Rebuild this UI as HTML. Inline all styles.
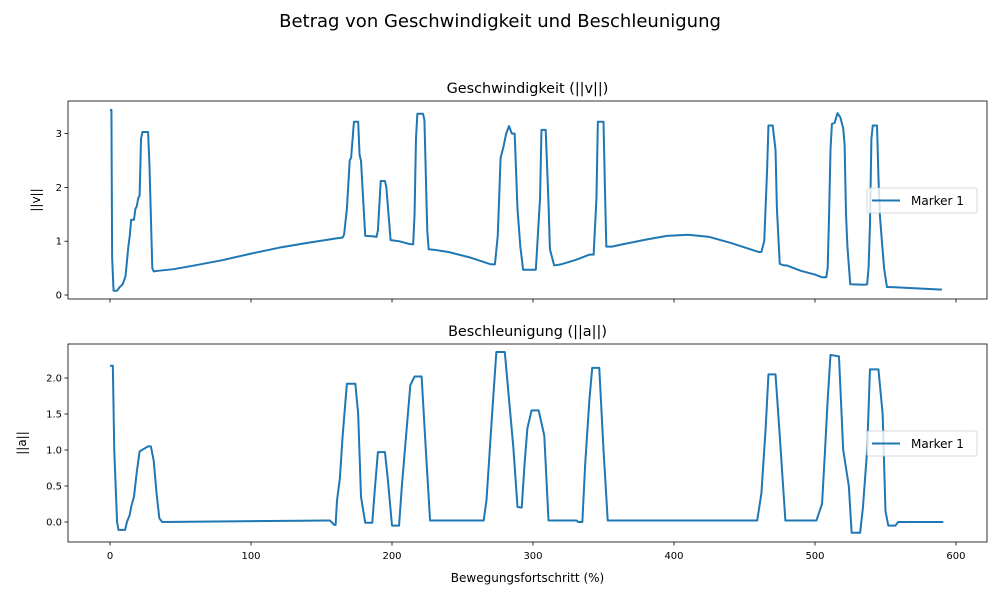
<!DOCTYPE html>
<html><head><meta charset="utf-8"><style>
body{margin:0;background:#fff;font-family:"Liberation Sans","DejaVu Sans",sans-serif}
svg text{font-family:"DejaVu Sans","Liberation Sans",sans-serif}
</style></head><body>
<svg id="c" width="1000" height="600" viewBox="0 0 1000 600">
<text x="500" y="27" text-anchor="middle" font-size="18" fill="#000">Betrag von Geschwindigkeit und Beschleunigung</text>
</svg>
<script>
const vX=[0,1,1.5,2.5,5,7,9,11,13,14,15,17,18,19,20,21,22,23,27,28,30,31,34,45,60,80,100,120,140,160,165,166,168,170,171,173,176,177,178,181,187,189,190,192,195,196,199,205,212,215,216,217,218,222,223,225,226,230,240,255,270,273,275,276,277,279,281,283,285,287,289,291,293,302,305,306,309,311,312,315,320,330,340,343,345,346,350,351,352,356,365,380,395,410,425,440,460,462,464,466,467,470,472,473,475,478,480,490,500,505,508,509,510,511,512,514,515,516,518,519,520,521,522,523,525,535,537,538,539,540,541,544,545,546,547,549,551,560,590];
const vY=[3.44,3.44,0.7,0.08,0.08,0.15,0.2,0.35,0.9,1.1,1.4,1.4,1.6,1.65,1.8,1.85,2.9,3.03,3.03,2.4,0.5,0.44,0.45,0.48,0.55,0.65,0.77,0.88,0.97,1.05,1.07,1.12,1.6,2.5,2.55,3.22,3.22,2.6,2.5,1.1,1.09,1.08,1.2,2.12,2.12,2.0,1.02,1.0,0.95,0.94,1.5,2.9,3.37,3.37,3.25,1.2,0.85,0.84,0.8,0.7,0.57,0.57,1.1,1.8,2.55,2.75,3.0,3.14,3.0,3.0,1.6,0.9,0.47,0.47,1.8,3.07,3.07,1.7,0.85,0.55,0.57,0.65,0.75,0.75,1.8,3.22,3.22,2.0,0.9,0.9,0.95,1.03,1.1,1.12,1.08,0.97,0.8,0.8,1.0,2.3,3.15,3.15,2.7,1.6,0.58,0.55,0.55,0.45,0.38,0.33,0.33,0.5,1.5,2.7,3.18,3.2,3.3,3.38,3.3,3.2,3.1,2.8,1.5,0.9,0.2,0.19,0.2,0.5,1.3,2.9,3.15,3.15,2.2,1.5,1.15,0.5,0.15,0.14,0.1];
const aX=[0,2,3,5,6,10.7,12,14,15,17,19,21,27,29,31,33,35,37,155,156,159,160,161,163,165,168,174,176,178,181,186,188,190,195,197,200,205,207,210,213,216,221,224,227,265,267,269,271,274,280,283,286,289,292,294,296,299,304,308,311,331,332,335,337,340,342,347,350,353,459,462,465,467,472,475,479,501,505,507,509,511,517,520,524,526,532,534,537,539,545,548,550,552,557,559,591];
const aY=[2.17,2.17,1.0,0.0,-0.11,-0.11,0.0,0.1,0.21,0.35,0.7,0.98,1.05,1.05,0.85,0.4,0.05,0.0,0.02,0.02,-0.04,-0.04,0.3,0.6,1.2,1.92,1.92,1.5,0.35,-0.01,-0.01,0.5,0.97,0.97,0.6,-0.05,-0.05,0.5,1.2,1.9,2.02,2.02,1.0,0.02,0.02,0.3,0.9,1.5,2.36,2.36,1.7,1.05,0.21,0.2,0.8,1.3,1.55,1.55,1.2,0.02,0.02,0.0,0.0,0.8,1.7,2.14,2.14,1.0,0.02,0.02,0.4,1.3,2.05,2.05,1.2,0.02,0.02,0.25,0.95,1.7,2.32,2.3,1.0,0.5,-0.15,-0.15,0.2,1.0,2.12,2.12,1.5,0.15,-0.05,-0.05,0.0,0.0];
const xTicks=[0,100,200,300,400,500,600];
const vTicks=[0,1,2,3];
const aTicks=[0.0,0.5,1.0,1.5,2.0];
const aTickLabels=["0.0","0.5","1.0","1.5","2.0"];

const svg=document.getElementById('c');
const NS='http://www.w3.org/2000/svg';
function mk(t,a,p){const e=document.createElementNS(NS,t);for(const k in a)e.setAttribute(k,a[k]);(p||svg).appendChild(e);return e;}
const L=68,R=987,xmin=-29.8,xmax=622;
const sx=v=>L+(v-xmin)/(xmax-xmin)*(R-L);
function panel(top,bot,ymin,ymax,xs,ys,yt,ytl,title,ylab,ylx,legY,showX,nm){
  const sy=v=>bot-(v-ymin)/(ymax-ymin)*(bot-top);
  let d='';
  for(let i=0;i<xs.length;i++)d+=(i?'L':'M')+sx(xs[i]).toFixed(2)+' '+sy(ys[i]).toFixed(2);
  const line=mk('path',{d:d,fill:'none',stroke:'#1f77b4','stroke-width':2,'stroke-linejoin':'round'});
  
  
  const fr=mk('rect',{x:L,y:top,width:R-L,height:bot-top,fill:'none',stroke:'#000','stroke-width':0.8});
  
  
  xTicks.forEach(t=>{
    mk('line',{x1:sx(t),x2:sx(t),y1:bot,y2:bot+3.5,stroke:'#000','stroke-width':0.8});
    if(showX){const tx=mk('text',{x:sx(t),y:bot+17,'text-anchor':'middle','font-size':10});tx.textContent=t;
      
      }
  });
  yt.forEach((t,i)=>{
    mk('line',{x1:L-3.5,x2:L,y1:sy(t),y2:sy(t),stroke:'#000','stroke-width':0.8});
    const tx=mk('text',{x:L-6,y:sy(t)+3.5,'text-anchor':'end','font-size':10});tx.textContent=ytl[i];
    
    
  });
  const ti=mk('text',{x:(L+R)/2,y:top-8,'text-anchor':'middle','font-size':14.4});ti.textContent=title;
  
  
  const yl=mk('text',{x:ylx,y:(top+bot)/2,'text-anchor':'middle','font-size':12,transform:'rotate(-90 '+ylx+' '+(top+bot)/2+')'});yl.textContent=ylab;
  
  
  const g=mk('g',{});
  
  
  mk('rect',{x:867,y:legY,width:110,height:25,rx:2,fill:'#fff','fill-opacity':0.8,stroke:'#ccc','stroke-width':0.8},g);
  mk('line',{x1:872,x2:900,y1:legY+12.5,y2:legY+12.5,stroke:'#1f77b4','stroke-width':2},g);
  const lt=mk('text',{x:911,y:legY+17,'font-size':12},g);lt.textContent='Marker 1';
}
panel(101,299,-0.074,3.606,vX,vY,vTicks,vTicks.map(String),'Geschwindigkeit (||v||)','||v||',40,188,false,'velocity');
panel(344,542,-0.278,2.472,aX,aY,aTicks,aTickLabels,'Beschleunigung (||a||)','||a||',26,431,true,'acceleration');
const xl=mk('text',{x:(L+R)/2,y:582,'text-anchor':'middle','font-size':12});xl.textContent='Bewegungsfortschritt (%)';


</script>
</body></html>
